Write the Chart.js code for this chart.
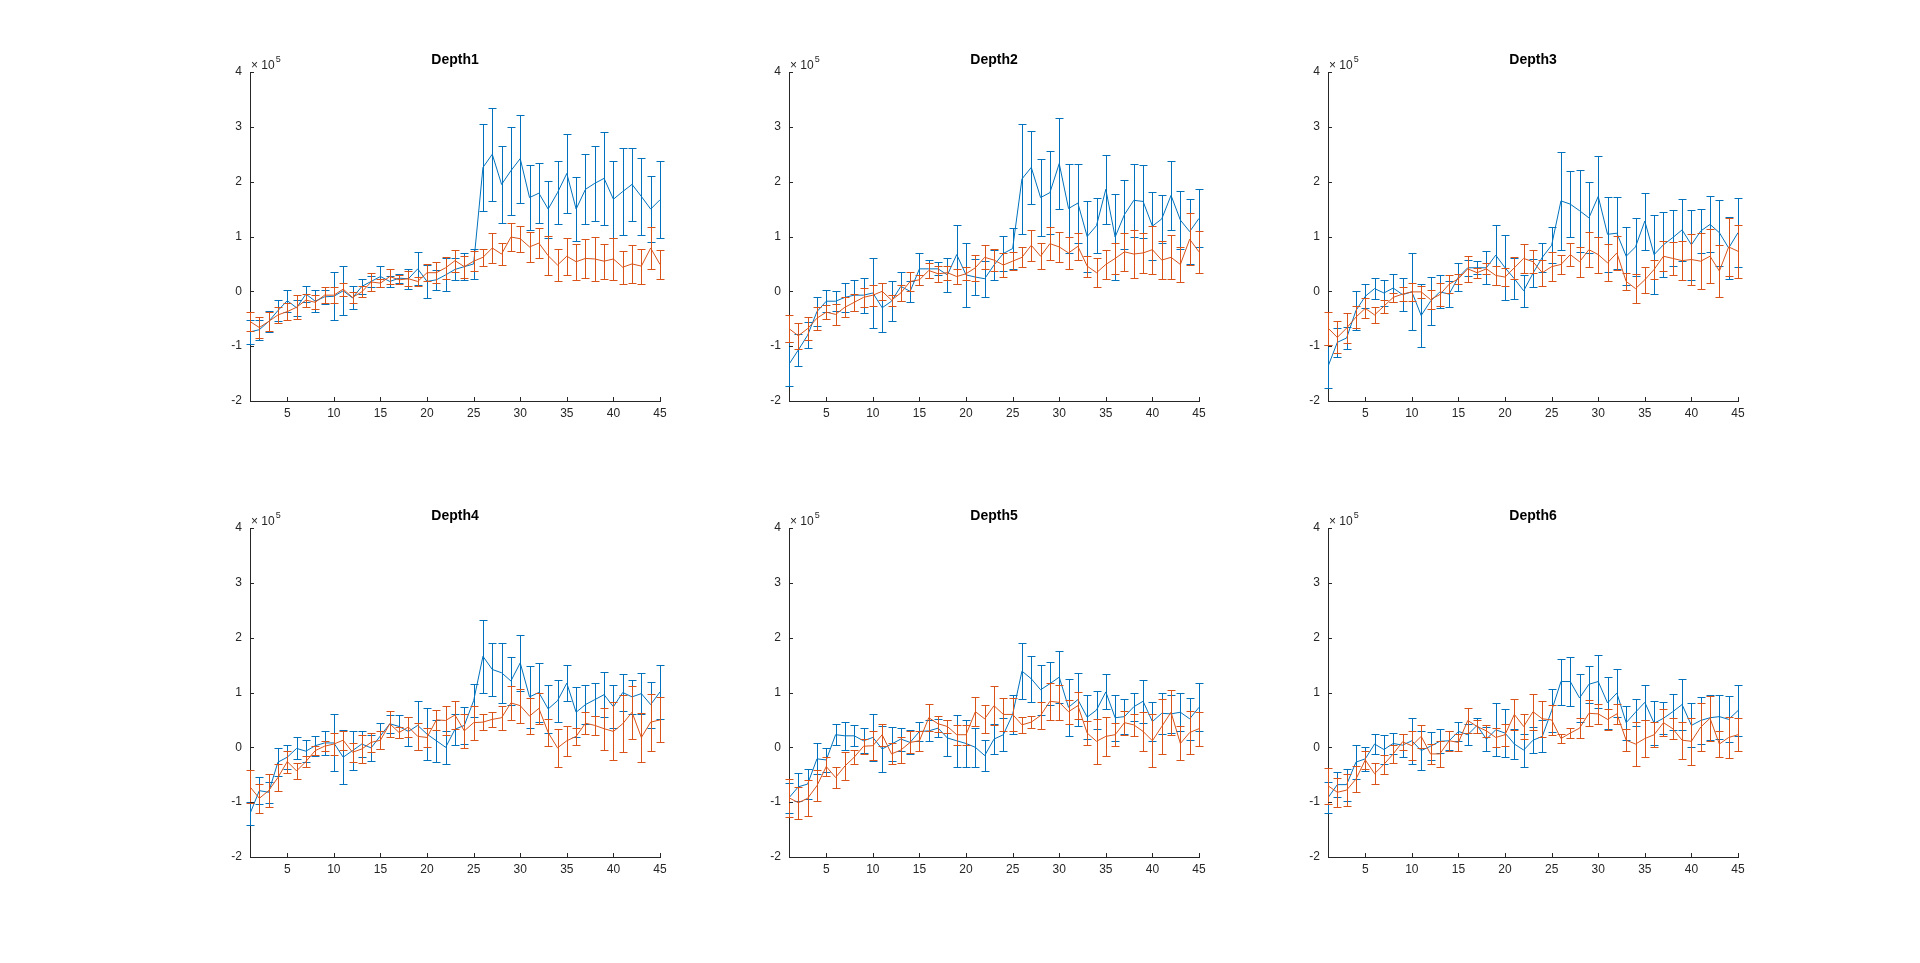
<!DOCTYPE html>
<html>
<head>
<meta charset="utf-8">
<title>Depth1 - Depth6</title>
<script src="https://cdn.jsdelivr.net/npm/chart.js@4.4.1/dist/chart.umd.min.js"></script>
<style>
    html, body { margin: 0; padding: 0; background: #fff; }
    body { width: 1920px; height: 963px; position: relative; overflow: hidden; }
    .panel { position: absolute; }
    .panel canvas { display: block; }
</style>
</head>
<body>
<div class="panel" id="panel-1"><canvas id="chart-1" width="480" height="389"></canvas></div>
<div class="panel" id="panel-2"><canvas id="chart-2" width="480" height="389"></canvas></div>
<div class="panel" id="panel-3"><canvas id="chart-3" width="480" height="389"></canvas></div>
<div class="panel" id="panel-4"><canvas id="chart-4" width="480" height="389"></canvas></div>
<div class="panel" id="panel-5"><canvas id="chart-5" width="480" height="389"></canvas></div>
<div class="panel" id="panel-6"><canvas id="chart-6" width="480" height="389"></canvas></div>
<script>
(function () {
    "use strict";

    // values are in units of 10^5
    var xValues = [1, 2, 3, 4, 5, 6, 7, 8, 9, 10, 11, 12, 13, 14, 15, 16, 17, 18, 19, 20, 21, 22, 23,
        24, 25, 26, 27, 28, 29, 30, 31, 32, 33, 34, 35, 36, 37, 38, 39, 40, 41, 42, 43, 44, 45];
    var xTicks = [5, 10, 15, 20, 25, 30, 35, 40, 45];
    var yTicks = [-2, -1, 0, 1, 2, 3, 4];
    var titles = ["Depth1", "Depth2", "Depth3", "Depth4", "Depth5", "Depth6"];

    var d1Blue = [-0.74, -0.70, -0.55, -0.35, -0.17, -0.30, -0.05, -0.18, -0.10, -0.09, 0.01, -0.12, 0.09, 0.18, 0.27,
        0.18, 0.24, 0.23, 0.41, 0.18, 0.21, 0.30, 0.40, 0.45, 0.50, 2.26, 2.50, 1.95, 2.20, 2.42,
        1.71, 1.79, 1.50, 1.80, 2.15, 1.50, 1.86, 1.97, 2.06, 1.68, 1.82, 1.95, 1.73, 1.50, 1.67];
    var d1BlueErr = [0.22, 0.18, 0.20, 0.20, 0.20, 0.15, 0.14, 0.20, 0.13, 0.44, 0.45, 0.21, 0.13, 0.10, 0.20,
        0.10, 0.08, 0.18, 0.30, 0.30, 0.18, 0.30, 0.20, 0.25, 0.28, 0.80, 0.85, 0.70, 0.80, 0.80,
        0.60, 0.55, 0.52, 0.58, 0.72, 0.58, 0.64, 0.68, 0.85, 0.70, 0.80, 0.67, 0.70, 0.60, 0.70];
    var d1Orange = [-0.55, -0.66, -0.55, -0.43, -0.37, -0.29, -0.16, -0.20, -0.07, -0.07, 0.04, -0.11, -0.01, 0.17, 0.15,
        0.27, 0.21, 0.23, 0.18, 0.34, 0.34, 0.43, 0.56, 0.45, 0.55, 0.62, 0.79, 0.68, 0.99, 0.96,
        0.81, 0.88, 0.65, 0.48, 0.64, 0.54, 0.60, 0.59, 0.55, 0.59, 0.44, 0.50, 0.46, 0.79, 0.49];
    var d1OrangeErr = [0.18, 0.19, 0.18, 0.14, 0.15, 0.22, 0.12, 0.13, 0.15, 0.15, 0.12, 0.10, 0.10, 0.16, 0.08,
        0.14, 0.08, 0.14, 0.09, 0.15, 0.19, 0.20, 0.20, 0.20, 0.18, 0.16, 0.27, 0.20, 0.26, 0.24,
        0.27, 0.28, 0.36, 0.30, 0.34, 0.33, 0.35, 0.40, 0.32, 0.39, 0.30, 0.34, 0.32, 0.38, 0.26];

    var d2Blue = [-1.33, -1.07, -0.80, -0.37, -0.18, -0.18, -0.11, -0.07, -0.07, -0.03, -0.30, -0.18, 0.09, 0.00, 0.41,
        0.41, 0.41, 0.30, 0.67, 0.30, 0.26, 0.23, 0.48, 0.69, 0.78, 2.05, 2.26, 1.71, 1.80, 2.33,
        1.51, 1.61, 1.00, 1.20, 1.86, 0.99, 1.40, 1.66, 1.64, 1.19, 1.32, 1.75, 1.30, 1.09, 1.33];
    var d2BlueErr = [0.40, 0.29, 0.24, 0.27, 0.20, 0.18, 0.26, 0.28, 0.32, 0.63, 0.45, 0.37, 0.26, 0.19, 0.29,
        0.17, 0.12, 0.31, 0.54, 0.58, 0.33, 0.33, 0.28, 0.32, 0.38, 1.00, 0.67, 0.70, 0.76, 0.83,
        0.81, 0.72, 0.64, 0.51, 0.63, 0.78, 0.63, 0.66, 0.66, 0.62, 0.44, 0.63, 0.53, 0.59, 0.53];
    var d2Orange = [-0.68, -0.81, -0.68, -0.49, -0.38, -0.42, -0.29, -0.20, -0.11, -0.07, 0.00, -0.16, -0.03, 0.18, 0.21,
        0.38, 0.32, 0.34, 0.27, 0.32, 0.43, 0.62, 0.57, 0.48, 0.55, 0.62, 0.84, 0.64, 0.87, 0.81,
        0.70, 0.82, 0.46, 0.34, 0.49, 0.60, 0.72, 0.68, 0.70, 0.76, 0.57, 0.62, 0.49, 0.95, 0.72];
    var d2OrangeErr = [0.24, 0.24, 0.21, 0.21, 0.13, 0.19, 0.18, 0.15, 0.17, 0.19, 0.15, 0.10, 0.15, 0.18, 0.09,
        0.14, 0.15, 0.13, 0.13, 0.12, 0.24, 0.22, 0.20, 0.22, 0.16, 0.18, 0.28, 0.24, 0.30, 0.27,
        0.29, 0.24, 0.19, 0.26, 0.27, 0.29, 0.35, 0.43, 0.36, 0.44, 0.35, 0.40, 0.32, 0.47, 0.38];

    var d3Blue = [-1.37, -0.93, -0.85, -0.35, -0.09, 0.05, -0.03, 0.06, -0.06, -0.01, -0.44, -0.18, -0.01, -0.05, 0.26,
        0.43, 0.43, 0.43, 0.66, 0.43, 0.23, 0.01, 0.33, 0.62, 0.84, 1.65, 1.59, 1.47, 1.34, 1.73,
        1.04, 1.06, 0.64, 0.81, 1.28, 0.67, 0.85, 0.98, 1.12, 0.85, 1.10, 1.22, 1.07, 0.79, 1.07];
    var d3BlueErr = [0.40, 0.27, 0.20, 0.35, 0.22, 0.19, 0.24, 0.25, 0.30, 0.70, 0.57, 0.44, 0.30, 0.23, 0.26,
        0.15, 0.12, 0.30, 0.55, 0.59, 0.37, 0.29, 0.26, 0.27, 0.33, 0.90, 0.60, 0.75, 0.65, 0.73,
        0.68, 0.66, 0.53, 0.53, 0.52, 0.72, 0.59, 0.51, 0.56, 0.64, 0.40, 0.51, 0.60, 0.56, 0.63];
    var d3Orange = [-0.67, -0.84, -0.67, -0.47, -0.31, -0.43, -0.27, -0.11, -0.05, -0.01, -0.01, -0.15, -0.06, 0.13, 0.23,
        0.41, 0.34, 0.41, 0.29, 0.26, 0.43, 0.60, 0.54, 0.34, 0.45, 0.49, 0.67, 0.54, 0.76, 0.67,
        0.52, 0.70, 0.18, 0.05, 0.21, 0.40, 0.64, 0.60, 0.56, 0.58, 0.55, 0.64, 0.37, 0.81, 0.73];
    var d3OrangeErr = [0.30, 0.29, 0.28, 0.20, 0.18, 0.15, 0.12, 0.08, 0.13, 0.16, 0.11, 0.18, 0.21, 0.16, 0.09,
        0.24, 0.09, 0.10, 0.17, 0.16, 0.20, 0.27, 0.21, 0.24, 0.27, 0.17, 0.21, 0.27, 0.32, 0.33,
        0.34, 0.31, 0.16, 0.26, 0.24, 0.18, 0.27, 0.30, 0.35, 0.46, 0.51, 0.49, 0.47, 0.53, 0.48];

    var d4Blue = [-1.21, -0.79, -0.82, -0.27, -0.18, -0.02, -0.07, 0.03, 0.08, 0.08, -0.18, -0.06, 0.06, -0.01, 0.21,
        0.43, 0.38, 0.29, 0.40, 0.24, 0.12, 0.00, 0.33, 0.40, 0.85, 1.66, 1.42, 1.36, 1.21, 1.54,
        0.92, 1.00, 0.70, 0.85, 1.17, 0.64, 0.78, 0.87, 0.96, 0.74, 1.00, 0.92, 0.98, 0.78, 1.01];
    var d4BlueErr = [0.21, 0.25, 0.19, 0.25, 0.22, 0.20, 0.20, 0.18, 0.22, 0.52, 0.49, 0.35, 0.24, 0.24, 0.24,
        0.16, 0.21, 0.26, 0.44, 0.47, 0.38, 0.30, 0.28, 0.34, 0.30, 0.66, 0.48, 0.55, 0.44, 0.51,
        0.57, 0.53, 0.44, 0.38, 0.33, 0.46, 0.36, 0.30, 0.41, 0.39, 0.34, 0.31, 0.37, 0.42, 0.49];
    var d4Orange = [-0.72, -0.93, -0.79, -0.55, -0.26, -0.43, -0.26, -0.06, 0.02, 0.06, 0.13, -0.09, -0.03, 0.09, 0.13,
        0.43, 0.27, 0.37, 0.20, 0.18, 0.50, 0.49, 0.59, 0.30, 0.45, 0.46, 0.51, 0.54, 0.81, 0.76,
        0.57, 0.71, 0.27, -0.01, 0.12, 0.20, 0.44, 0.40, 0.34, 0.29, 0.43, 0.64, 0.18, 0.46, 0.50];
    var d4OrangeErr = [0.30, 0.27, 0.30, 0.24, 0.20, 0.14, 0.10, 0.08, 0.09, 0.20, 0.17, 0.17, 0.25, 0.17, 0.16,
        0.24, 0.10, 0.19, 0.24, 0.18, 0.18, 0.27, 0.26, 0.31, 0.31, 0.15, 0.14, 0.22, 0.31, 0.31,
        0.33, 0.28, 0.24, 0.35, 0.27, 0.15, 0.20, 0.18, 0.38, 0.53, 0.52, 0.48, 0.44, 0.52, 0.41];

    var d5Blue = [-0.92, -0.72, -0.67, -0.21, -0.23, 0.23, 0.21, 0.21, 0.12, 0.18, -0.03, 0.06, 0.15, 0.09, 0.29,
        0.30, 0.35, 0.17, 0.12, 0.07, 0.00, -0.15, 0.15, 0.23, 0.60, 1.39, 1.25, 1.05, 1.16, 1.28,
        0.73, 0.87, 0.55, 0.68, 1.01, 0.54, 0.56, 0.74, 0.84, 0.47, 0.62, 0.61, 0.64, 0.52, 0.73];
    var d5BlueErr = [0.27, 0.25, 0.28, 0.28, 0.22, 0.19, 0.26, 0.19, 0.23, 0.43, 0.42, 0.31, 0.21, 0.22, 0.17,
        0.19, 0.17, 0.33, 0.47, 0.43, 0.36, 0.28, 0.28, 0.30, 0.36, 0.51, 0.42, 0.46, 0.39, 0.48,
        0.52, 0.48, 0.40, 0.34, 0.32, 0.42, 0.32, 0.26, 0.39, 0.35, 0.37, 0.34, 0.35, 0.38, 0.44];
    var d5Orange = [-0.92, -1.01, -0.93, -0.70, -0.35, -0.55, -0.34, -0.18, 0.02, 0.03, 0.23, -0.12, -0.05, 0.09, 0.12,
        0.54, 0.43, 0.38, 0.23, 0.23, 0.65, 0.52, 0.76, 0.60, 0.60, 0.41, 0.46, 0.58, 0.84, 0.82,
        0.65, 0.76, 0.26, 0.11, 0.20, 0.23, 0.45, 0.41, 0.29, 0.12, 0.38, 0.64, 0.07, 0.27, 0.34];
    var d5OrangeErr = [0.35, 0.29, 0.33, 0.28, 0.18, 0.20, 0.25, 0.13, 0.14, 0.26, 0.20, 0.19, 0.23, 0.20, 0.18,
        0.25, 0.15, 0.11, 0.18, 0.18, 0.26, 0.26, 0.35, 0.30, 0.30, 0.14, 0.11, 0.24, 0.34, 0.32,
        0.22, 0.25, 0.22, 0.41, 0.35, 0.21, 0.22, 0.20, 0.36, 0.48, 0.50, 0.41, 0.31, 0.40, 0.31];

    var d6Blue = [-0.92, -0.68, -0.68, -0.27, -0.21, 0.06, -0.04, 0.07, 0.04, 0.12, -0.06, 0.02, 0.11, 0.12, 0.29,
        0.23, 0.40, 0.15, 0.32, 0.26, 0.06, -0.05, 0.13, 0.20, 0.67, 1.20, 1.20, 0.90, 1.15, 1.20,
        0.81, 0.99, 0.45, 0.64, 0.82, 0.44, 0.53, 0.65, 0.78, 0.40, 0.49, 0.54, 0.56, 0.51, 0.67];
    var d6BlueErr = [0.28, 0.23, 0.29, 0.31, 0.22, 0.18, 0.26, 0.19, 0.21, 0.42, 0.35, 0.26, 0.22, 0.17, 0.17,
        0.19, 0.14, 0.22, 0.48, 0.43, 0.27, 0.30, 0.24, 0.29, 0.39, 0.42, 0.45, 0.43, 0.34, 0.49,
        0.47, 0.44, 0.31, 0.25, 0.32, 0.40, 0.29, 0.33, 0.47, 0.40, 0.43, 0.41, 0.40, 0.42, 0.47];
    var d6Orange = [-0.70, -0.82, -0.78, -0.58, -0.23, -0.48, -0.31, -0.12, 0.10, 0.03, 0.20, -0.12, -0.12, 0.12, 0.09,
        0.49, 0.38, 0.30, 0.18, 0.23, 0.60, 0.38, 0.65, 0.52, 0.50, 0.16, 0.26, 0.35, 0.62, 0.61,
        0.51, 0.61, 0.13, 0.06, 0.16, 0.23, 0.45, 0.34, 0.13, 0.11, 0.37, 0.53, 0.06, 0.18, 0.23];
    var d6OrangeErr = [0.33, 0.26, 0.29, 0.24, 0.16, 0.19, 0.17, 0.17, 0.15, 0.26, 0.21, 0.18, 0.23, 0.18, 0.15,
        0.23, 0.12, 0.11, 0.17, 0.20, 0.28, 0.22, 0.33, 0.33, 0.28, 0.09, 0.09, 0.18, 0.24, 0.18,
        0.19, 0.18, 0.20, 0.40, 0.34, 0.23, 0.24, 0.19, 0.34, 0.43, 0.44, 0.41, 0.24, 0.37, 0.30];

    var BLUE = "#0072BD";
    var ORANGE = "#D95319";
    var AXIS_COLOR = "#262626";
    var FONT = "'Liberation Sans', Arial, Helvetica, sans-serif";

    // axes boxes of a 2x3 subplot grid
    var colLefts = [250, 789, 1328];
    var rowTops = [72, 528];
    var padLeft = 50;
    var padTop = 30;

    var panels = [
        { blue: d1Blue, blueErr: d1BlueErr, orange: d1Orange, orangeErr: d1OrangeErr },
        { blue: d2Blue, blueErr: d2BlueErr, orange: d2Orange, orangeErr: d2OrangeErr },
        { blue: d3Blue, blueErr: d3BlueErr, orange: d3Orange, orangeErr: d3OrangeErr },
        { blue: d4Blue, blueErr: d4BlueErr, orange: d4Orange, orangeErr: d4OrangeErr },
        { blue: d5Blue, blueErr: d5BlueErr, orange: d5Orange, orangeErr: d5OrangeErr },
        { blue: d6Blue, blueErr: d6BlueErr, orange: d6Orange, orangeErr: d6OrangeErr }
    ];

    function toPoints(values) {
        return values.map(function (v, i) {
            return { x: xValues[i], y: v };
        });
    }

    // error bars drawn right after each line, so orange sits on top of blue
    var errorBars = {
        id: "errorBars",
        afterDatasetDraw: function (chart, args) {
            var ds = chart.data.datasets[args.index];
            var yScale = chart.scales.y;
            var ctx = chart.ctx;
            var cap = 4;

            if (!ds.errors) {
                return;
            }

            ctx.save();
            ctx.strokeStyle = ds.borderColor;
            ctx.lineWidth = 1;
            ctx.beginPath();
            args.meta.data.forEach(function (pt, i) {
                var x = Math.round(pt.x) + 0.5;
                var y = ds.data[i].y;
                var top = Math.round(yScale.getPixelForValue(y + ds.errors[i])) + 0.5;
                var bottom = Math.round(yScale.getPixelForValue(y - ds.errors[i])) + 0.5;
                ctx.moveTo(x, top);
                ctx.lineTo(x, bottom);
                ctx.moveTo(x - cap, top);
                ctx.lineTo(x + cap, top);
                ctx.moveTo(x - cap, bottom);
                ctx.lineTo(x + cap, bottom);
            });
            ctx.stroke();
            ctx.restore();
        }
    };

    // inward tick marks, title and the x10^5 exponent label
    var matlabDecor = {
        id: "matlabDecor",
        afterDraw: function (chart) {
            var ctx = chart.ctx;
            var area = chart.chartArea;
            var xScale = chart.scales.x;
            var yScale = chart.scales.y;
            var tickLen = 4;
            var baseWidth;

            ctx.save();
            ctx.strokeStyle = AXIS_COLOR;
            ctx.lineWidth = 1;
            ctx.beginPath();
            xScale.ticks.forEach(function (t) {
                var px = Math.round(xScale.getPixelForValue(t.value)) + 0.5;
                ctx.moveTo(px, area.bottom);
                ctx.lineTo(px, area.bottom - tickLen);
            });
            yScale.ticks.forEach(function (t) {
                var py = Math.round(yScale.getPixelForValue(t.value)) + 0.5;
                ctx.moveTo(area.left, py);
                ctx.lineTo(area.left + tickLen, py);
            });
            ctx.stroke();

            ctx.fillStyle = "#000";
            ctx.font = "bold 14px " + FONT;
            ctx.textAlign = "center";
            ctx.textBaseline = "alphabetic";
            ctx.fillText(chart.options.plugins.matlabDecor.title, (area.left + area.right) / 2, area.top - 8);

            ctx.fillStyle = AXIS_COLOR;
            ctx.textAlign = "left";
            ctx.font = "12px " + FONT;
            ctx.fillText("\u00d7 10", area.left + 1, area.top - 3);
            baseWidth = ctx.measureText("\u00d7 10").width;
            ctx.font = "9px " + FONT;
            ctx.fillText("5", area.left + 2 + baseWidth, area.top - 10);
            ctx.restore();
        }
    };

    function createChart(index) {
        var panel = panels[index];
        var col = index % 3;
        var row = Math.floor(index / 3);
        var wrap = document.getElementById("panel-" + (index + 1));
        var canvas = document.getElementById("chart-" + (index + 1));

        wrap.style.left = (colLefts[col] - padLeft) + "px";
        wrap.style.top = (rowTops[row] - padTop) + "px";

        return new Chart(canvas.getContext("2d"), {
            type: "line",
            data: {
                datasets: [
                    {
                        data: toPoints(panel.orange),
                        errors: panel.orangeErr,
                        borderColor: ORANGE,
                        borderWidth: 1,
                        pointRadius: 0,
                        tension: 0,
                        fill: false,
                        order: 0
                    },
                    {
                        data: toPoints(panel.blue),
                        errors: panel.blueErr,
                        borderColor: BLUE,
                        borderWidth: 1,
                        pointRadius: 0,
                        tension: 0,
                        fill: false,
                        order: 1
                    }
                ]
            },
            options: {
                responsive: false,
                animation: false,
                events: [],
                layout: {
                    padding: { left: 0, top: padTop, right: 20, bottom: 0 }
                },
                plugins: {
                    legend: { display: false },
                    tooltip: { enabled: false },
                    matlabDecor: { title: titles[index] }
                },
                scales: {
                    x: {
                        type: "linear",
                        min: 1,
                        max: 45,
                        afterBuildTicks: function (scale) {
                            scale.ticks = xTicks.map(function (v) {
                                return { value: v };
                            });
                        },
                        afterFit: function (scale) {
                            scale.height = 30;
                        },
                        grid: { display: false, drawTicks: false, tickLength: 0 },
                        border: { display: true, color: AXIS_COLOR, width: 1 },
                        ticks: {
                            color: AXIS_COLOR,
                            font: { family: FONT, size: 12 },
                            padding: 5,
                            maxRotation: 0,
                            autoSkip: false
                        }
                    },
                    y: {
                        type: "linear",
                        min: -2,
                        max: 4,
                        afterBuildTicks: function (scale) {
                            scale.ticks = yTicks.map(function (v) {
                                return { value: v };
                            });
                        },
                        afterFit: function (scale) {
                            scale.width = padLeft;
                        },
                        grid: { display: false, drawTicks: false, tickLength: 0 },
                        border: { display: true, color: AXIS_COLOR, width: 1 },
                        ticks: {
                            color: AXIS_COLOR,
                            font: { family: FONT, size: 12 },
                            padding: 8,
                            autoSkip: false
                        }
                    }
                }
            },
            plugins: [errorBars, matlabDecor]
        });
    }

    panels.forEach(function (panel, i) {
        createChart(i);
    });
})();
</script>
</body>
</html>
